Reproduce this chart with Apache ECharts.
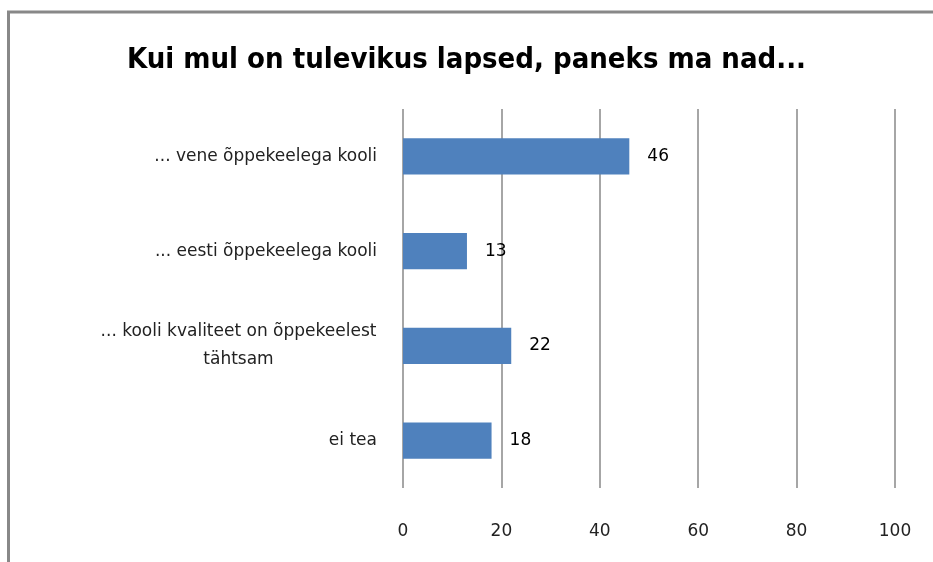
<!DOCTYPE html>
<html>
<head>
<meta charset="utf-8">
<script src="https://cdn.jsdelivr.net/npm/echarts@6/dist/echarts.min.js"></script>
<style>
  body { margin: 0; background: #fff; }
  #chart { width: 933px; height: 562px; }
</style>
</head>
<body>
<div id="chart"></div>
<script>
var categories = [
  "... vene õppekeelega kooli",
  "... eesti õppekeelega kooli",
  "... kooli kvaliteet on õppekeelest\ntähtsam",
  "ei tea"
];
var values = [46, 13, 22, 18];
var xTicks = [0, 20, 40, 60, 80, 100];

var chart = echarts.init(document.getElementById("chart"));
chart.setOption({
  animation: false,
  title: {
    text: "Kui mul on tulevikus lapsed, paneks ma nad...",
    left: "center",
    top: 41,
    textStyle: {
      fontFamily: "Liberation Sans Narrow, DejaVu Sans Condensed, sans-serif",
      fontWeight: "bold",
      fontSize: 29,
      color: "#000"
    }
  },
  graphic: [
    {
      type: "polyline",
      shape: { points: [[8.5, 570], [8.5, 12], [940, 12]] },
      style: { stroke: "#888", lineWidth: 3, fill: null }
    }
  ],
  grid: { left: 403, right: 38, top: 109, bottom: 74 },
  xAxis: {
    type: "value",
    min: xTicks[0],
    max: xTicks[xTicks.length - 1],
    interval: 20,
    axisLine: { show: false },
    axisTick: { show: false },
    splitLine: { lineStyle: { color: "#888", width: 1.5 } },
    axisLabel: {
      margin: 35,
      fontFamily: "DejaVu Sans, sans-serif",
      fontSize: 17,
      color: "#222"
    }
  },
  yAxis: {
    type: "category",
    data: categories,
    inverse: true,
    axisLine: { show: false },
    axisTick: { show: false },
    axisLabel: {
      margin: 26,
      fontFamily: "DejaVu Sans, sans-serif",
      fontSize: 17,
      color: "#222",
      lineHeight: 28,
      formatter: function (v) {
        if (v.indexOf("\n") >= 0) {
          return v.split("\n").map(function (s) { return "{c|" + s + "}"; }).join("\n");
        }
        return v;
      },
      rich: {
        c: {
          width: 277,
          align: "center",
          fontFamily: "DejaVu Sans, sans-serif",
          fontSize: 17,
          color: "#222",
          lineHeight: 28
        }
      }
    }
  },
  series: [
    {
      type: "bar",
      data: values,
      barWidth: "38%",
      itemStyle: { color: "#4F81BD" },
      label: {
        show: true,
        position: "right",
        distance: 18,
        fontFamily: "DejaVu Sans, sans-serif",
        fontSize: 17,
        color: "#000"
      }
    }
  ]
});
</script>
</body>
</html>
